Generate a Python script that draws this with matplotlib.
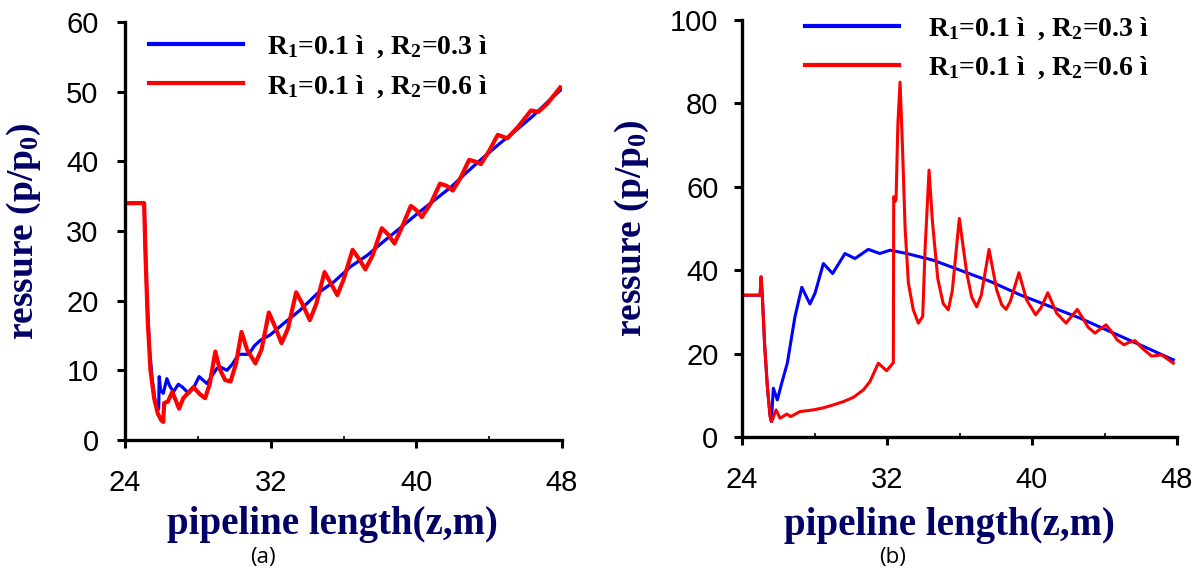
import matplotlib
matplotlib.use('Agg')
import matplotlib.pyplot as plt
from matplotlib.ticker import MultipleLocator

# ---- data ----
# (a) R1=0.1, R2=0.3 (blue)
a_blue_x = [24, 25.05, 25.12, 25.2, 25.35, 25.5, 25.65, 25.8, 25.85, 25.88, 25.95, 26.1,
            26.3, 26.45, 26.66, 26.93, 27.15, 27.49, 27.75, 28.07, 28.5, 28.8, 29.05, 29.3,
            29.6, 29.9, 30.24, 30.8, 31.1, 31.43, 31.98, 32.7, 33.6, 34.55, 35.47, 36.4,
            37.3, 38.2, 39.1, 40.06, 40.98, 41.9, 42.8, 43.7, 44.6, 45.5, 46.4, 47.2, 47.95]
a_blue_y = [34, 34, 28, 21, 13, 8.5, 5.6, 4.3, 4.5, 9.1, 7.2, 6.7,
            8.8, 7.8, 6.9, 8.0, 7.6, 6.7, 7.4, 9.1, 8.1, 9.3, 10.3, 10.4,
            10.0, 10.9, 12.3, 12.3, 13.5, 14.3, 15.1, 16.7, 18.6, 21.0, 22.7, 24.9,
            26.5, 28.5, 30.4, 32.5, 34.4, 36.3, 38.5, 40.6, 42.6, 44.5, 46.5, 48.5, 50.3]

# (a) R1=0.1, R2=0.6 (red)
a_red_x = [24, 25.05, 25.12, 25.25, 25.4, 25.6, 25.8, 26.0, 26.1, 26.15, 26.35, 26.6,
           26.97, 27.2, 27.76, 28.1, 28.4, 28.65, 28.96, 29.2, 29.5, 29.8, 30.1, 30.4,
           30.7, 31.16, 31.5, 31.9, 32.2, 32.6, 32.95, 33.4, 33.75, 34.15, 34.5, 34.96,
           35.3, 35.66, 36.0, 36.5, 36.85, 37.2, 37.6, 38.1, 38.45, 38.8, 39.2, 39.7,
           40.0, 40.3, 40.8, 41.3, 41.65, 42.0, 42.4, 42.9, 43.2, 43.55, 44.0, 44.47,
           45.0, 45.6, 46.3, 46.7, 47.2, 47.9]
a_red_y = [34, 34, 27, 17, 10, 6, 3.8, 2.8, 2.6, 5.3, 5.5, 6.9,
           4.5, 6.0, 7.6, 6.6, 6.0, 8.0, 12.7, 10.2, 8.6, 8.4, 11.0, 15.5,
           13.0, 11.0, 13.0, 18.3, 16.5, 13.9, 16.0, 21.2, 19.5, 17.2, 19.5, 24.1,
           22.5, 20.8, 23.0, 27.3, 26.0, 24.5, 26.5, 30.4, 29.5, 28.2, 30.5, 33.6,
           33.0, 32.0, 34.0, 36.8, 36.5, 35.8, 37.5, 40.2, 40.0, 39.6, 41.5, 43.8,
           43.3, 45.0, 47.3, 47.1, 48.3, 50.6]

# (b) R1=0.1, R2=0.3 (blue)
b_blue_x = [24, 25.0, 25.05, 25.12, 25.25, 25.4, 25.55, 25.62, 25.73, 25.95, 26.19, 26.5,
            26.92, 27.3, 27.75, 28.03, 28.49, 29.0, 29.68, 30.23, 30.97, 31.6, 32.17, 33.09,
            34.55, 36.03, 37.7, 39.34, 41.0, 42.65, 44.3, 45.96, 47.8]
b_blue_y = [34, 34, 38.4, 34, 22, 12, 5, 3.7, 11.7, 8.9, 12.9, 17.7,
            28.8, 35.9, 31.9, 34.5, 41.6, 39.2, 44.0, 42.8, 45.0, 44.0, 44.8, 44.0,
            42.4, 40.0, 37.3, 34.1, 31.3, 28.5, 25.3, 22.1, 18.5]

# (b) R1=0.1, R2=0.6 (red)
b_red_x = [24, 25.0, 25.05, 25.12, 25.25, 25.4, 25.55, 25.64, 25.88, 26.1, 26.47, 26.69,
           27.2, 27.93, 28.5, 29.04, 29.6, 30.14, 30.7, 31.06, 31.52, 31.98, 32.35, 32.37,
           32.45, 32.5, 32.6, 32.72, 32.85, 33.0, 33.18, 33.45, 33.73, 33.97, 34.1, 34.32,
           34.5, 34.8, 35.1, 35.38, 35.6, 35.99, 36.4, 36.67, 36.95, 37.2, 37.63, 38.05,
           38.33, 38.57, 38.8, 39.28, 39.7, 40.2, 40.5, 40.87, 41.36, 41.88, 42.1, 42.5,
           42.8, 43.1, 43.48, 43.7, 44.08, 44.4, 44.7, 45.08, 45.3, 45.68, 46.1, 46.6,
           47.15, 47.8]
b_red_y = [34, 34, 38.4, 34, 22, 12, 5, 3.7, 6.5, 4.5, 5.5, 4.9,
           6.1, 6.5, 7.0, 7.7, 8.5, 9.5, 11.3, 13.3, 17.7, 15.9, 17.8, 57.6,
           56.5, 57.0, 75.0, 85.1, 70.0, 50.0, 36.9, 30.5, 27.3, 28.9, 45.0, 64.0,
           52.0, 38.0, 32.0, 30.5, 35.0, 52.4, 39.3, 33.6, 31.2, 34.0, 45.0, 35.3,
           31.7, 30.6, 32.5, 39.4, 32.9, 29.3, 31.0, 34.6, 29.7, 27.3, 28.5, 30.6,
           28.5, 26.3, 24.9, 25.7, 26.9, 25.2, 23.3, 22.1, 22.6, 23.1, 21.2, 19.4,
           19.7, 17.7]

labels = [r"R$_1$=0.1 ì  , R$_2$=0.3 ì", r"R$_1$=0.1 ì  , R$_2$=0.6 ì"]
x_ticks = [24, 32, 40, 48]

NAVY = '#000066'
SERIF = 'Liberation Serif'
SANS = 'Liberation Sans'

plt.rcParams['mathtext.fontset'] = 'custom'
plt.rcParams['mathtext.rm'] = 'Liberation Serif:bold'
plt.rcParams['mathtext.it'] = 'Liberation Serif:bold'
plt.rcParams['mathtext.bf'] = 'Liberation Serif:bold'

fig = plt.figure(figsize=(12.02, 5.76), dpi=100)
ax_a = fig.add_axes([125 / 1202, 1 - 440 / 576, 437 / 1202, 418 / 576])
ax_b = fig.add_axes([742 / 1202, 1 - 437 / 576, 435 / 1202, 417 / 576])


def style_axes(ax, ymax, ystep, ypad, leg_anchor, textpad):
    for s in ['top', 'right']:
        ax.spines[s].set_visible(False)
    for s in ['left', 'bottom']:
        ax.spines[s].set_linewidth(2.4)
    ax.set_xlim(24, 48)
    ax.set_ylim(0, ymax)
    ax.set_xticks(x_ticks)
    ax.xaxis.set_minor_locator(MultipleLocator(4))
    ax.yaxis.set_major_locator(MultipleLocator(ystep))
    ax.tick_params(axis='x', which='major', direction='out', length=6, width=2.2,
                   pad=15, labelsize=21)
    ax.tick_params(axis='x', which='minor', direction='in', length=3, width=1.2)
    ax.tick_params(axis='y', which='major', direction='out', length=6, width=2.2,
                   pad=ypad, labelsize=21)
    for t in ax.get_xticklabels() + ax.get_yticklabels():
        t.set_fontfamily(SANS)
    ax.set_xlabel("pipeline length(z,m)", fontsize=28, fontweight='bold',
                  fontfamily=SERIF, color=NAVY)
    ax.set_ylabel(r"ressure (p/p$_0$)", fontsize=27, fontweight='bold',
                  fontfamily=SERIF, color=NAVY)
    leg = ax.legend(loc='upper left', bbox_to_anchor=leg_anchor, frameon=False,
                    prop={'family': SERIF, 'weight': 'bold', 'size': 20},
                    handlelength=3.38, handletextpad=textpad, labelspacing=0.45,
                    borderpad=0, borderaxespad=0)
    for line in leg.get_lines():
        line.set_linewidth(3)
    return leg


ax_a.plot(a_blue_x, a_blue_y, color='#0000ff', lw=2.3, label=labels[0])
ax_a.plot(a_red_x, a_red_y, color='#ff0000', lw=3.0, label=labels[1])
style_axes(ax_a, 60, 10, 13, (24 / 437, 0.972), 0.86)
ax_a.xaxis.set_label_coords(0.475, -0.203)
ax_a.xaxis.label.set_va('center')
ax_a.yaxis.set_label_coords(-0.232, 0.5)
ax_a.yaxis.label.set_va('center')

ax_b.plot(b_blue_x, b_blue_y, color='#0000ff', lw=2.2, label=labels[0])
ax_b.plot(b_red_x, b_red_y, color='#ff0000', lw=2.2, label=labels[1])
style_axes(ax_b, 100, 20, 11, (63 / 435, 1.012), 1.04)
ax_b.xaxis.set_label_coords(0.476, -0.212)
ax_b.xaxis.label.set_va('center')
ax_b.yaxis.set_label_coords(-0.253, 0.5)
ax_b.yaxis.label.set_va('center')

fig.text(263 / 1202, 1 - 557 / 576, "(a)", ha='center', va='center',
         fontsize=16, fontfamily='Open Sans')
fig.text(893 / 1202, 1 - 557 / 576, "(b)", ha='center', va='center',
         fontsize=16, fontfamily='Open Sans')

fig.savefig('out.png', dpi=100, facecolor='white')
